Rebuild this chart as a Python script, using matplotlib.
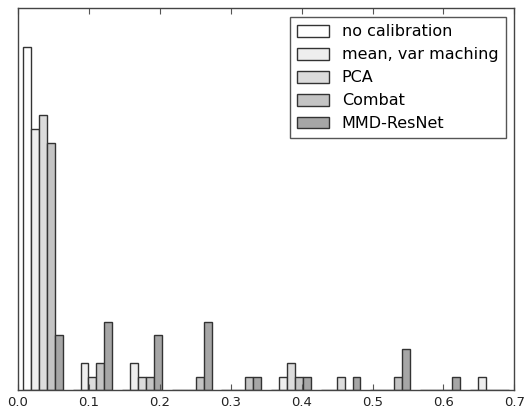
import numpy as np
import matplotlib
matplotlib.use("Agg")
import matplotlib.pyplot as plt

# bin edges of the histogram
bin_edges = np.linspace(0.0, 0.7, 11)
labels = ["no calibration", "mean, var maching", "PCA", "Combat", "MMD-ResNet"]

# counts per bin for each method
no_calibration = [25, 0, 0, 0, 0, 0, 0, 0, 0, 0]
mean_var = [19, 2, 2, 0, 0, 1, 0, 0, 0, 1]
pca = [20, 1, 1, 0, 0, 2, 1, 0, 0, 0]
combat = [18, 2, 1, 1, 1, 1, 0, 1, 0, 0]
mmd_resnet = [4, 5, 4, 5, 1, 1, 1, 3, 1, 0]

series = [no_calibration, mean_var, pca, combat, mmd_resnet]
colors = ["#ffffff", "#eeeeee", "#dcdcdc", "#c4c4c4", "#a6a6a6"]

centers = (bin_edges[:-1] + bin_edges[1:]) / 2

fig = plt.figure(figsize=(5.24, 4.12), dpi=100)
ax = fig.add_axes([18 / 524, 1 - 390.3 / 412, 496.3 / 524, 382 / 412])

ax.hist([centers] * len(series), bins=bin_edges, weights=series,
        color=colors, edgecolor="#333333", linewidth=1.0, label=labels)

ax.set_xlim(0, 0.7)
ax.set_ylim(0, 27.8)
ax.set_xticks(np.arange(0, 0.71, 0.1))
ax.set_xticklabels([f"{v:.1f}" for v in np.arange(0, 0.71, 0.1)], fontsize=9.5)
ax.set_yticks([])
ax.tick_params(axis="x", direction="in", top=True, length=4, color="#555555",
               pad=4, labelcolor="#222222")
for sp in ax.spines.values():
    sp.set_color("#444444")
    sp.set_linewidth(1.0)

leg = ax.legend(loc="upper right", fontsize=11.5, fancybox=False, framealpha=1,
                edgecolor="#555555", handlelength=2.0, handleheight=0.75,
                borderpad=0.45, labelspacing=0.5, handletextpad=0.8,
                borderaxespad=0.55)
leg.get_frame().set_linewidth(1.0)

fig.savefig("out.png", dpi=100)
